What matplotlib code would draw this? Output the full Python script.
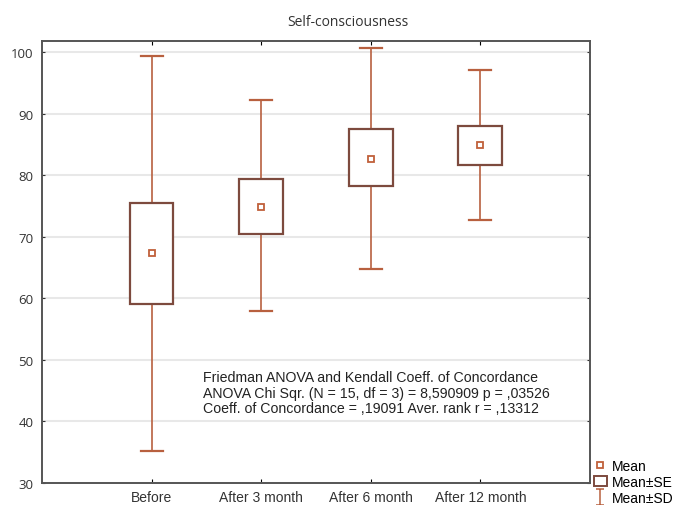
import numpy as np
import matplotlib.pyplot as plt
from matplotlib.lines import Line2D
from matplotlib.patches import Rectangle
from matplotlib.path import Path

# -----------------------------
# Data
# -----------------------------
groups = ["Before", "After 3 month", "After 6 month", "After 12 month"]
mean_vals = [67.3, 74.9, 82.7, 84.9]
se_low = [59.0, 70.5, 78.3, 81.7]
se_high = [75.5, 79.4, 87.5, 88.0]
sd_low = [35.2, 57.9, 64.8, 72.8]
sd_high = [99.3, 92.2, 100.6, 97.1]

stats_lines = [
    "Friedman ANOVA and Kendall Coeff. of Concordance",
    "ANOVA Chi Sqr. (N = 15, df = 3) = 8,590909 p = ,03526",
    "Coeff. of Concordance = ,19091 Aver. rank r = ,13312",
]

whisk_col = "#b8603f"
box_col = "#7d4a3e"
mean_col = "#c0603a"

fig = plt.figure(figsize=(6.95, 5.06), dpi=100)
ax = fig.add_axes([0.0604, 0.0435, 0.7885, 0.8735])

x = np.arange(1, len(groups) + 1)
box_w = 0.40
cap_w = 0.20

for xi, m, lo, hi, dlo, dhi in zip(x, mean_vals, se_low, se_high, sd_low, sd_high):
    # SD whiskers
    ax.plot([xi, xi], [hi, dhi], color=whisk_col, lw=1.2, zorder=2)
    ax.plot([xi, xi], [dlo, lo], color=whisk_col, lw=1.2, zorder=2)
    ax.plot([xi - cap_w / 2, xi + cap_w / 2], [dhi, dhi], color=whisk_col, lw=1.6, zorder=2)
    ax.plot([xi - cap_w / 2, xi + cap_w / 2], [dlo, dlo], color=whisk_col, lw=1.6, zorder=2)
    # SE box
    ax.add_patch(Rectangle((xi - box_w / 2, lo), box_w, hi - lo,
                           facecolor="white", edgecolor=box_col, lw=1.6, zorder=3))
    # mean
    ax.plot(xi, m, marker="s", ms=4, mfc="white", mec=mean_col, mew=1.3, zorder=4)

ax.set_xlim(0, 5)
ax.set_ylim(30, 101.8)
ax.set_xticks(x)
ax.set_xticklabels(groups, fontfamily="Liberation Sans", fontsize=10, color="#333333")
ax.set_yticks(np.arange(30, 101, 10))
ax.tick_params(axis="y", labelsize=9.5, colors="#333333", direction="in", length=2,
               right=True, pad=6)
ax.tick_params(axis="x", direction="in", length=3, top=True, pad=5)
for lab in ax.get_yticklabels():
    lab.set_fontfamily("Open Sans")
ax.grid(axis="y", color="#e8e8e8", lw=1.5, zorder=0)
ax.set_axisbelow(True)
for s in ax.spines.values():
    s.set_color("#555555")
    s.set_linewidth(1.4)

fig.text(0.5, 0.955, "Self-consciousness", ha="center", va="center",
         fontsize=10, fontfamily="Open Sans", color="#333333")

ax.text(0.294, 0.204, "\n".join(stats_lines), transform=ax.transAxes,
        ha="left", va="center", fontsize=10.2, fontfamily="Liberation Sans",
        color="#222222", linespacing=1.15)

# I-beam marker for the SD legend entry
ibeam = Path([(-0.5, 1), (0.5, 1), (0, 1), (0, -1), (-0.5, -1), (0.5, -1)],
             [Path.MOVETO, Path.LINETO, Path.MOVETO, Path.LINETO, Path.MOVETO, Path.LINETO])

handles = [
    Line2D([], [], ls="none", marker="s", ms=4, mfc="white", mec=mean_col, mew=1.3),
    Rectangle((0, 0), 1, 1, facecolor="white", edgecolor=box_col, lw=1.4),
    Line2D([], [], ls="none", marker=ibeam, ms=11, mfc="none", mec=whisk_col, mew=1.1),
]
fig.legend(handles, ["Mean", "Mean\u00b1SE", "Mean\u00b1SD"], loc="upper left",
           bbox_to_anchor=(0.855, 0.091), frameon=False,
           prop={"family": "Liberation Sans", "size": 10},
           handlelength=0.9, handletextpad=0.4, labelspacing=0.15,
           borderpad=0, borderaxespad=0)

fig.savefig("out.png", dpi=100)
